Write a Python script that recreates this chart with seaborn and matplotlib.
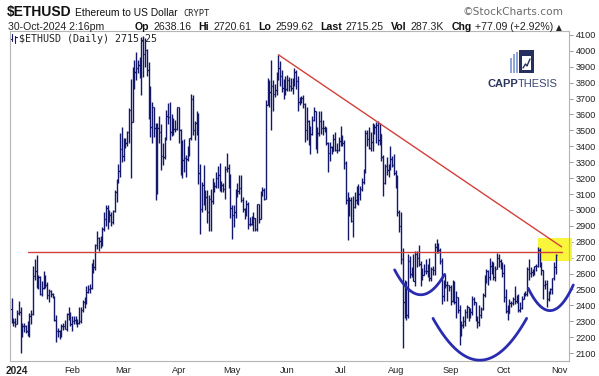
import numpy as np
import pandas as pd
import matplotlib
matplotlib.use("Agg")
import matplotlib.pyplot as plt
import matplotlib.dates as mdates
from matplotlib import font_manager
from matplotlib.patches import Rectangle
import seaborn as sns

W, H = 599, 376

# Daily $ETHUSD bars, Dec 29 2023 .. Oct 30 2024
first_open = 2380
dec_hi = [2445, 2320, 2320]
dec_lo = [2290, 2270, 2265]
dec_cl = [2300, 2293, 2281]
jan_hi = [2370, 2430, 2390, 2290, 2290, 2275, 2300, 2350, 2370, 2645, 2690, 2715, 2590, 2585, 2550, 2615,
          2590, 2545, 2500, 2495, 2475, 2460, 2340, 2260, 2245, 2280, 2290, 2305, 2350, 2390, 2355]
jan_lo = [2280, 2340, 2100, 2200, 2230, 2225, 2210, 2200, 2280, 2340, 2560, 2510, 2500, 2465, 2460, 2500,
          2510, 2440, 2420, 2455, 2445, 2300, 2170, 2200, 2190, 2200, 2245, 2250, 2240, 2310, 2270]
jan_cl = [2352, 2355, 2210, 2269, 2268, 2240, 2222, 2331, 2344, 2584, 2618, 2525, 2576, 2472, 2511, 2587,
          2530, 2467, 2490, 2470, 2453, 2309, 2241, 2236, 2218, 2268, 2268, 2254, 2343, 2318, 2283]
feb_hi = [2330, 2330, 2330, 2315, 2390, 2390, 2435, 2450, 2520, 2525, 2535, 2665, 2690, 2785, 2870, 2830,
          2835, 2890, 2985, 3030, 3030, 3000, 2990, 3000, 3125, 3195, 3290, 3485, 3520]
feb_lo = [2240, 2285, 2285, 2265, 2280, 2290, 2360, 2385, 2410, 2475, 2475, 2500, 2605, 2625, 2755, 2740,
          2760, 2770, 2870, 2900, 2880, 2925, 2900, 2910, 2990, 3050, 3170, 3210, 3300]
feb_cl = [2304, 2308, 2296, 2290, 2301, 2372, 2423, 2419, 2486, 2501, 2507, 2659, 2641, 2777, 2823, 2803,
          2786, 2880, 2945, 3014, 2968, 2971, 2922, 2992, 3113, 3177, 3243, 3385, 3341]
mar_hi = [3450, 3450, 3495, 3640, 3825, 3900, 3940, 3995, 3940, 3960, 4087, 4093, 4080, 4010, 3930, 3780,
          3680, 3645, 3545, 3545, 3590, 3540, 3420, 3460, 3630, 3670, 3680, 3600, 3580, 3565, 3650]
mar_lo = [3310, 3390, 3400, 3420, 3200, 3550, 3760, 3820, 3860, 3830, 3720, 3835, 3900, 3840, 3570, 3460,
          3420, 3460, 3065, 3100, 3420, 3250, 3280, 3320, 3440, 3540, 3440, 3465, 3470, 3490, 3500]
mar_cl = [3433, 3420, 3488, 3630, 3553, 3817, 3868, 3890, 3911, 3880, 4067, 3982, 4006, 3881, 3733, 3523,
          3645, 3517, 3159, 3517, 3493, 3337, 3330, 3455, 3590, 3587, 3493, 3562, 3511, 3508, 3648]
apr_hi = [3650, 3510, 3440, 3445, 3345, 3400, 3455, 3730, 3720, 3560, 3620, 3610, 3290, 3175, 3285, 3125,
          3125, 3095, 3130, 3200, 3175, 3240, 3275, 3295, 3180, 3170, 3275, 3355, 3290, 3225]
apr_lo = [3420, 3220, 3200, 3240, 3210, 3310, 3340, 3440, 3470, 3440, 3470, 3160, 2850, 2990, 3030, 3000,
          2920, 2865, 2870, 3040, 3110, 3140, 3140, 3120, 3110, 3110, 3070, 3240, 3140, 2950]
apr_cl = [3505, 3278, 3311, 3329, 3318, 3352, 3453, 3700, 3505, 3545, 3505, 3235, 3007, 3156, 3101, 3084,
          2985, 3066, 3056, 3155, 3148, 3200, 3219, 3140, 3155, 3131, 3256, 3263, 3217, 3014]
may_hi = [3030, 3030, 3130, 3170, 3220, 3220, 3080, 3010, 3060, 3050, 2955, 2960, 2990, 2950, 3040, 3040,
          3120, 3145, 3140, 3690, 3830, 3815, 3940, 3820, 3790, 3870, 3975, 3935, 3880, 3825, 3845]
may_lo = [2815, 2890, 2950, 3080, 3100, 3050, 2990, 2940, 2960, 2880, 2900, 2905, 2870, 2865, 2870, 2920,
          2940, 3090, 3060, 3070, 3660, 3650, 3500, 3620, 3710, 3720, 3820, 3780, 3740, 3700, 3720]
may_cl = [2970, 2990, 3100, 3117, 3137, 3063, 3006, 2974, 3036, 2910, 2912, 2930, 2950, 2881, 3037, 2945,
          3092, 3124, 3071, 3662, 3793, 3739, 3782, 3727, 3751, 3825, 3892, 3844, 3769, 3749, 3763]
jun_hi = [3850, 3835, 3830, 3830, 3890, 3880, 3840, 3710, 3715, 3720, 3675, 3650, 3565, 3530, 3590, 3650,
          3625, 3520, 3625, 3625, 3565, 3525, 3520, 3430, 3430, 3400, 3480, 3490, 3420, 3460]
jun_lo = [3750, 3750, 3750, 3730, 3780, 3760, 3620, 3660, 3670, 3640, 3430, 3440, 3410, 3350, 3470, 3560,
          3380, 3360, 3465, 3480, 3470, 3490, 3410, 3240, 3310, 3350, 3370, 3370, 3360, 3370]
jun_cl = [3815, 3780, 3767, 3812, 3866, 3812, 3680, 3683, 3706, 3667, 3500, 3560, 3470, 3480, 3567, 3620,
          3508, 3483, 3560, 3515, 3517, 3500, 3420, 3355, 3393, 3371, 3449, 3378, 3379, 3434]
jul_hi = [3525, 3470, 3440, 3310, 3115, 3080, 3080, 3090, 3110, 3150, 3165, 3150, 3200, 3260, 3500, 3505,
          3520, 3490, 3545, 3540, 3550, 3560, 3545, 3480, 3345, 3290, 3330, 3290, 3400, 3340, 3350]
jul_lo = [3400, 3400, 3260, 3040, 2810, 2960, 2925, 2830, 3010, 3040, 3030, 3060, 3120, 3160, 3230, 3400,
          3380, 3370, 3370, 3480, 3420, 3410, 3410, 3310, 3090, 3160, 3220, 3210, 3250, 3270, 3220]
jul_cl = [3440, 3420, 3295, 3060, 2980, 3065, 2930, 3020, 3065, 3100, 3100, 3130, 3175, 3245, 3485, 3445,
          3390, 3425, 3505, 3520, 3535, 3440, 3480, 3335, 3170, 3275, 3250, 3270, 3320, 3280, 3230]
aug_hi = [3250, 3220, 3000, 2990, 2760, 2560, 2550, 2720, 2710, 2640, 2720, 2740, 2740, 2780, 2680, 2635,
          2660, 2690, 2660, 2700, 2640, 2650, 2795, 2820, 2790, 2760, 2700, 2560, 2600, 2550, 2530]
aug_lo = [3140, 2960, 2860, 2660, 2130, 2320, 2310, 2320, 2570, 2580, 2550, 2520, 2640, 2650, 2520, 2560,
          2590, 2600, 2580, 2550, 2550, 2590, 2590, 2730, 2730, 2660, 2410, 2430, 2510, 2430, 2490]
aug_cl = [3200, 2990, 2900, 2690, 2420, 2460, 2340, 2680, 2600, 2610, 2555, 2720, 2700, 2660, 2570, 2590,
          2615, 2615, 2640, 2570, 2630, 2625, 2765, 2770, 2750, 2680, 2460, 2530, 2530, 2525, 2515]
sep_hi = [2530, 2560, 2550, 2490, 2450, 2400, 2300, 2330, 2380, 2400, 2390, 2385, 2460, 2450, 2420, 2335,
          2400, 2390, 2480, 2590, 2630, 2620, 2700, 2680, 2670, 2650, 2730, 2720, 2690, 2670]
sep_lo = [2400, 2420, 2410, 2320, 2350, 2150, 2210, 2260, 2270, 2320, 2300, 2320, 2340, 2400, 2300, 2260,
          2270, 2320, 2370, 2450, 2540, 2530, 2560, 2600, 2560, 2550, 2630, 2640, 2630, 2580]
sep_cl = [2430, 2540, 2420, 2450, 2370, 2230, 2275, 2300, 2360, 2390, 2340, 2360, 2440, 2420, 2315, 2295,
          2340, 2375, 2465, 2560, 2615, 2580, 2650, 2650, 2580, 2630, 2700, 2680, 2660, 2605]
oct_hi = [2660, 2500, 2400, 2440, 2430, 2455, 2520, 2465, 2470, 2420, 2460, 2480, 2490, 2640, 2690, 2640,
          2630, 2650, 2660, 2765, 2760, 2675, 2620, 2560, 2560, 2490, 2510, 2575, 2670, 2720.61]
oct_lo = [2420, 2350, 2310, 2350, 2390, 2400, 2410, 2415, 2360, 2360, 2380, 2440, 2460, 2460, 2560, 2580,
          2585, 2590, 2615, 2640, 2640, 2590, 2440, 2500, 2390, 2430, 2470, 2470, 2560, 2599.62]
oct_cl = [2450, 2365, 2350, 2415, 2415, 2440, 2425, 2440, 2370, 2385, 2440, 2475, 2470, 2630, 2605, 2610,
          2605, 2645, 2650, 2745, 2665, 2620, 2525, 2535, 2440, 2480, 2505, 2570, 2638.16, 2715.25]

highs = dec_hi + jan_hi + feb_hi + mar_hi + apr_hi + may_hi + jun_hi + jul_hi + aug_hi + sep_hi + oct_hi
lows = dec_lo + jan_lo + feb_lo + mar_lo + apr_lo + may_lo + jun_lo + jul_lo + aug_lo + sep_lo + oct_lo
closes = dec_cl + jan_cl + feb_cl + mar_cl + apr_cl + may_cl + jun_cl + jul_cl + aug_cl + sep_cl + oct_cl
# crypto trades around the clock, so each day opens at the prior close
opens = [first_open] + closes[:-1]
dates = pd.date_range("2023-12-29", "2024-10-30", freq="D")

df = pd.DataFrame({"date": dates, "open": opens, "high": highs, "low": lows, "close": closes})
df["x"] = mdates.date2num(df["date"])

# hand-drawn markup on the chart
support_level = 2733
support_dates = ["2024-01-07 00:00", "2024-11-02 12:00"]
trend_dates = ["2024-05-27 00:00", "2024-11-02 08:00"]
trend_prices = [3976, 2768]
arc_dates = [
    ["2024-07-31 10:00", "2024-08-14 10:00", "2024-08-28 12:00"],
    ["2024-08-22 00:00", "2024-09-13 18:00", "2024-10-13 16:00"],
    ["2024-10-14 14:00", "2024-10-25 00:00", "2024-11-08 22:00"],
]
arc_prices = [[2623, 2467, 2595], [2318, 2060, 2318], [2507, 2370, 2528]]
box_dates = ["2024-10-20 06:00", "2024-11-08 06:00"]
box_prices = [2678, 2822]

y_ticks = list(range(2100, 4101, 100))
month_ticks = ["2024-01-01", "2024-02-01", "2024-03-01", "2024-04-01", "2024-05-01", "2024-06-01",
               "2024-07-01", "2024-08-01", "2024-09-01", "2024-10-01", "2024-11-01"]
month_labels = ["2024", "Feb", "Mar", "Apr", "May", "Jun", "Jul", "Aug", "Sep", "Oct", "Nov"]

NAVY = "#14186b"
RED = "#d2403a"
BLUE = "#2a2cb0"


def to_num(strings):
    return mdates.date2num(pd.to_datetime(strings, format="ISO8601"))


sns.set_theme(style="white")
names = {f.name for f in font_manager.fontManager.ttflist}
NARROW = "Liberation Sans Narrow" if "Liberation Sans Narrow" in names else "Liberation Sans"
plt.rcParams["font.family"] = ["Liberation Sans", "DejaVu Sans"]

fig = plt.figure(figsize=(W / 100, H / 100), dpi=100)
ax = fig.add_axes([10 / W, 1 - 361 / H, 559 / W, 330 / H])

# OHLC bars
half = 0.7
ax.vlines(df["x"], df["low"], df["high"], color=NAVY, lw=1.0, zorder=2)
ax.hlines(df["open"], df["x"] - half, df["x"], color=NAVY, lw=0.9, zorder=2)
ax.hlines(df["close"], df["x"], df["x"] + half, color=NAVY, lw=0.9, zorder=2)

# markup
sd = to_num(support_dates)
sns.lineplot(x=sd, y=[support_level, support_level], ax=ax, color=RED, lw=1.0, zorder=3)
td = to_num(trend_dates)
sns.lineplot(x=td, y=trend_prices, ax=ax, color=RED, lw=1.0, zorder=3)
for ds, ps in zip(arc_dates, arc_prices):
    xs = to_num(ds)
    coef = np.polyfit(xs, ps, 2)
    xx = np.linspace(xs[0], xs[-1], 80)
    ax.plot(xx, np.polyval(coef, xx), color=BLUE, lw=2.0, zorder=4, clip_on=False,
            solid_capstyle="round")
bd = to_num(box_dates)
ax.add_patch(Rectangle((bd[0], box_prices[0]), bd[1] - bd[0], box_prices[1] - box_prices[0],
                       facecolor="#f8f53a", edgecolor="none", zorder=1, clip_on=False))

x0 = mdates.date2num(pd.Timestamp("2023-12-29"))
ax.set_xlim(x0 - 0.95, x0 + 313.5)
ax.set_ylim(2050, 4125)

ax.yaxis.tick_right()
ax.set_yticks(y_ticks)
ax.set_yticklabels([str(v) for v in y_ticks])
ax.tick_params(axis="y", length=3, width=0.6, color="#8a8a8a", labelsize=6.6, pad=2,
               labelcolor="#222222")
ax.set_xticks(to_num(month_ticks))
ax.set_xticklabels(month_labels)
ax.tick_params(axis="x", length=2.5, width=0.6, color="#8a8a8a", labelsize=6.6, pad=1,
               labelcolor="#222222")
ax.get_xticklabels()[0].set_fontweight("bold")
ax.get_xticklabels()[0].set_fontsize(7.2)
for s in ax.spines.values():
    s.set_color("#b5b5b5")
    s.set_linewidth(0.8)
ax.grid(False)

# overlay in pixel coordinates for header, legend and logo
deco = fig.add_axes([0, 0, 1, 1], zorder=5)
deco.set_xlim(0, W)
deco.set_ylim(H, 0)
deco.axis("off")
deco.patch.set_alpha(0)

renderer = fig.canvas.get_renderer()


def run_text(x, y, parts):
    for s, kw, gap in parts:
        t = deco.text(x, y, s, va="baseline", ha="left", **kw)
        x += t.get_window_extent(renderer).width + gap
    return x


bold = dict(family=NARROW, fontweight="bold", fontsize=7.6, color="#111111")
reg = dict(family=NARROW, fontsize=7.6, color="#222222")
run_text(7, 16, [
    ("$ETHUSD", dict(family=NARROW, fontweight="bold", fontsize=10, color="#111111"), 3),
    ("Ethereum to US Dollar", dict(family=NARROW, fontsize=7.4, color="#111111"), 6),
    ("CRYPT", dict(family="DejaVu Sans Mono", fontsize=6.3, color="#222222"), 0),
])
deco.text(563, 15, "\u00a9StockCharts.com", family="DejaVu Sans", fontsize=7.6, color="#6a6a6a",
          va="baseline", ha="right")
deco.text(8, 30, "30-Oct-2024 2:16pm", va="baseline", **reg)
run_text(135, 30, [
    ("Op", bold, 4), ("2638.16", reg, 7), ("Hi", bold, 4), ("2720.61", reg, 7),
    ("Lo", bold, 4), ("2599.62", reg, 7), ("Last", bold, 4), ("2715.25", reg, 7),
    ("Vol", bold, 4), ("287.3K", reg, 7), ("Chg", bold, 4), ("+77.09 (+2.92%)", reg, 2),
    ("\u25b2", dict(family="DejaVu Sans", fontsize=5.5, color="#222222"), 0),
])

# in-chart legend with tiny bar glyph
deco.plot([12, 12], [34, 41], color=NAVY, lw=0.8)
deco.plot([10.5, 12], [39, 39], color=NAVY, lw=0.8)
deco.plot([15, 15], [36, 43], color=NAVY, lw=0.8)
deco.plot([15, 16.5], [37, 37], color=NAVY, lw=0.8)
deco.text(19, 42, "$ETHUSD (Daily) 2715.25", family="DejaVu Sans Mono", fontsize=7.2,
          color="#222222", va="baseline")

# CAPPTHESIS logo
for bx, top in zip([510, 513, 516], [58, 54, 52]):
    deco.add_patch(Rectangle((bx, top), 2.2, 73 - top, facecolor="#8fa6d6", edgecolor="none"))
deco.add_patch(Rectangle((519, 50), 15, 23, facecolor="#26305e", edgecolor="none"))
deco.add_patch(Rectangle((522, 56), 9, 14, facecolor="white", edgecolor="none"))
deco.plot([523, 525.5, 527, 530], [68, 64, 66, 59], color="#26305e", lw=1.0)
run_text(487, 87, [
    ("CAPP", dict(family="Liberation Sans", fontweight="bold", fontsize=8.0, color="#2b375e"), 0.5),
    ("THESIS", dict(family="Liberation Sans", fontsize=8.0, color="#3a4670"), 0),
])

fig.savefig("out.png", dpi=100)
